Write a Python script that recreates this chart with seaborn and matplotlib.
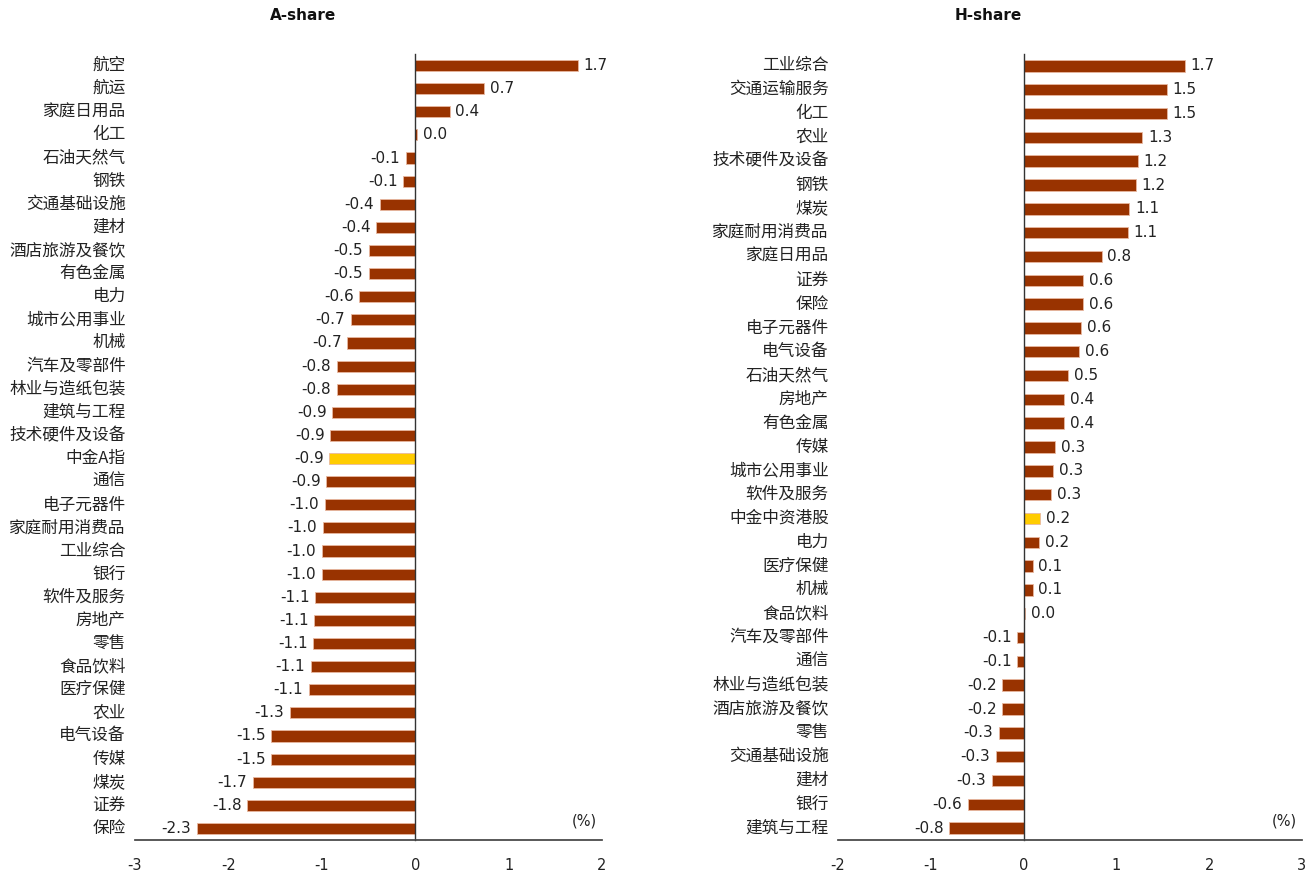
import matplotlib
matplotlib.use("Agg")
import matplotlib.pyplot as plt
import seaborn as sns
import pandas as pd

# A-share sector returns (%)
a_sectors = ["航空", "航运", "家庭日用品", "化工", "石油天然气", "钢铁", "交通基础设施", "建材",
             "酒店旅游及餐饮", "有色金属", "电力", "城市公用事业", "机械", "汽车及零部件",
             "林业与造纸包装", "建筑与工程", "技术硬件及设备", "中金A指", "通信", "电子元器件",
             "家庭耐用消费品", "工业综合", "银行", "软件及服务", "房地产", "零售", "食品饮料",
             "医疗保健", "农业", "电气设备", "传媒", "煤炭", "证券", "保险"]
a_values = [1.74, 0.74, 0.37, 0.02, -0.10, -0.13, -0.38, -0.42,
            -0.50, -0.50, -0.60, -0.69, -0.73, -0.84,
            -0.84, -0.89, -0.91, -0.92, -0.95, -0.97,
            -0.99, -1.00, -1.00, -1.07, -1.08, -1.09, -1.12,
            -1.14, -1.34, -1.54, -1.54, -1.74, -1.80, -2.34]

# H-share sector returns (%)
h_sectors = ["工业综合", "交通运输服务", "化工", "农业", "技术硬件及设备", "钢铁", "煤炭",
             "家庭耐用消费品", "家庭日用品", "证券", "保险", "电子元器件", "电气设备", "石油天然气",
             "房地产", "有色金属", "传媒", "城市公用事业", "软件及服务", "中金中资港股", "电力",
             "医疗保健", "机械", "食品饮料", "汽车及零部件", "通信", "林业与造纸包装",
             "酒店旅游及餐饮", "零售", "交通基础设施", "建材", "银行", "建筑与工程"]
h_values = [1.74, 1.54, 1.54, 1.28, 1.23, 1.21, 1.14,
            1.12, 0.84, 0.64, 0.64, 0.62, 0.60, 0.48,
            0.44, 0.44, 0.34, 0.32, 0.30, 0.18, 0.17,
            0.10, 0.10, 0.02, -0.07, -0.07, -0.23,
            -0.23, -0.27, -0.30, -0.34, -0.60, -0.80]

a_index = "中金A指"
h_index = "中金中资港股"

BAR = "#993300"
HL = "#FFCC00"

sns.set_theme(style="white")
plt.rcParams['font.family'] = ['DejaVu Sans']
plt.rcParams['axes.unicode_minus'] = False

fig = plt.figure(figsize=(13.16, 8.74), dpi=100)
ax_a = fig.add_axes([135 / 1316, 1 - 840 / 874, 467 / 1316, 786 / 874])
ax_h = fig.add_axes([838 / 1316, 1 - 840 / 874, 464 / 1316, 786 / 874])

panels = [
    (ax_a, a_sectors, a_values, a_index, (-3, 2), "A-share", 303),
    (ax_h, h_sectors, h_values, h_index, (-2, 3), "H-share", 988),
]

for ax, cats, vals, idx, xlim, title, title_x in panels:
    df = pd.DataFrame({"sector": cats, "ret": vals})
    colors = [HL if c == idx else BAR for c in cats]
    sns.barplot(data=df, y="sector", x="ret", hue="sector", palette=colors,
                legend=False, orient="h", width=0.48, ax=ax, saturation=1,
                edgecolor="#e8b8a0", linewidth=0.6)
    for cont in ax.containers:
        ax.bar_label(cont, fmt="{:.1f}", padding=4, fontsize=11, color="#222222")

    ax.set_xlim(*xlim)
    ax.set_ylim(len(cats) - 0.5, -0.5)
    ax.set_xticks(range(xlim[0], xlim[1] + 1))
    ax.set_xlabel("")
    ax.set_ylabel("")

    # y spine at zero with small ticks between categories
    ax.spines["left"].set_position(("data", 0))
    ax.spines["left"].set_color("#333333")
    ax.spines["left"].set_linewidth(1.0)
    ax.set_yticks([i + 0.5 for i in range(-1, len(cats))])
    ax.set_yticklabels([])
    ax.tick_params(axis="y", direction="in", length=5, width=1, color="#333333")
    for spine in ["top", "right"]:
        ax.spines[spine].set_visible(False)
    ax.spines["bottom"].set_color("#444444")
    ax.tick_params(axis="x", direction="inout", length=10, width=1, color="#444444",
                   labelsize=10.5, pad=8, labelcolor="#222222")

    # category names at the left of the axes
    for i, c in enumerate(cats):
        ax.text(-0.02, i, c, transform=ax.get_yaxis_transform(), ha="right", va="center",
                fontsize=12, family=['Noto Sans CJK SC', 'DejaVu Sans'], color="#222222")

    ax.text(0.99, 0.015, "(%)", transform=ax.transAxes, ha="right", va="bottom",
            fontsize=10.5, color="#222222")
    fig.text(title_x / 1316, 1 - 15 / 874, title, ha="center", va="center",
             fontsize=11, fontweight="bold", color="#111111")

fig.savefig("out.png", dpi=100)
